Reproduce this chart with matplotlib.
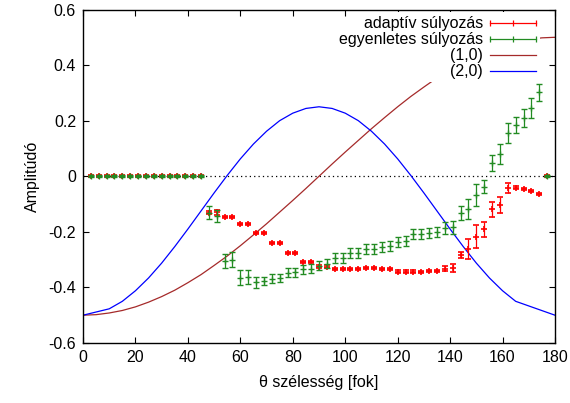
import matplotlib
matplotlib.use('Agg')
import matplotlib.pyplot as plt
from matplotlib.patches import Rectangle

plt.rcParams['font.family'] = ['Liberation Sans', 'DejaVu Sans']

# measurement angles (deg)
theta = [3, 6, 9, 12, 15, 18, 21, 24, 27, 30, 33, 36, 39, 42, 45,
         48, 51, 54, 57, 60, 63, 66, 69, 72, 75, 78, 81, 84, 87, 90,
         93, 96, 99, 102, 105, 108, 111, 114, 117, 120, 123, 126, 129, 132, 135,
         138, 141, 144, 147, 150, 153, 156, 159, 162, 165, 168, 171, 174, 177]

adaptive = [0, 0, 0, 0, 0, 0, 0, 0, 0, 0, 0, 0, 0, 0, 0,
            -0.131, -0.130, -0.147, -0.147, -0.172, -0.172, -0.203, -0.203, -0.241, -0.241,
            -0.277, -0.277, -0.308, -0.308, -0.325,
            -0.325, -0.333, -0.333, -0.333, -0.333, -0.329, -0.329, -0.333, -0.333, -0.343,
            -0.343, -0.343, -0.345, -0.341, -0.341,
            -0.332, -0.330, -0.282, -0.263, -0.217, -0.191, -0.119, -0.103, -0.041, -0.041,
            -0.045, -0.054, -0.065, 0]
adaptive_err = [0.003] * 15 + [0.005, 0.008] + [0.004] * 28 + \
               [0.008, 0.015, 0.011, 0.036, 0.041, 0.028, 0.028, 0.030, 0.018, 0.005,
                0.004, 0.004, 0.004, 0.003]

uniform = [0, 0, 0, 0, 0, 0, 0, 0, 0, 0, 0, 0, 0, 0, 0,
           -0.131, -0.143, -0.305, -0.300, -0.365, -0.362, -0.382, -0.377, -0.369, -0.366,
           -0.347, -0.345, -0.334, -0.333, -0.322,
           -0.315, -0.294, -0.294, -0.275, -0.275, -0.261, -0.260, -0.254, -0.252, -0.235,
           -0.233, -0.208, -0.208, -0.203, -0.200,
           -0.186, -0.184, -0.132, -0.118, -0.068, -0.037, 0.047, 0.079, 0.157, 0.184,
           0.209, 0.244, 0.302, 0]
uniform_err = [0.003] * 15 + \
              [0.024, 0.023, 0.026, 0.026, 0.026, 0.026, 0.020, 0.016, 0.016, 0.016,
               0.017, 0.016, 0.016, 0.016, 0.016,
               0.016, 0.017, 0.017, 0.018, 0.018, 0.018, 0.018, 0.018, 0.018, 0.018,
               0.018, 0.018, 0.018, 0.018, 0.018,
               0.020, 0.022, 0.024, 0.035, 0.039, 0.024, 0.029, 0.036, 0.036, 0.028,
               0.033, 0.036, 0.031, 0.003]

# reference curves
curve_x = [0, 5, 10, 15, 20, 25, 30, 35, 40, 45, 50, 55, 60, 65, 70, 75, 80, 85, 90,
           95, 100, 105, 110, 115, 120, 125, 130, 135, 140, 145, 150, 155, 160, 165, 170, 175, 180]
mode10 = [-0.5, -0.498, -0.492, -0.483, -0.470, -0.453, -0.433, -0.410, -0.383, -0.354,
          -0.321, -0.287, -0.25, -0.211, -0.171, -0.129, -0.087, -0.044, 0,
          0.044, 0.087, 0.129, 0.171, 0.211, 0.25, 0.287, 0.321, 0.354, 0.383, 0.410,
          0.433, 0.453, 0.470, 0.483, 0.492, 0.498, 0.5]
mode20_x = [0, 10, 15, 20, 25, 30, 35, 40, 45, 50, 55, 60, 65, 70, 75, 80, 85, 90,
            95, 100, 105, 110, 115, 120, 125, 130, 135, 140, 145, 150, 155, 160, 165, 180]
mode20 = [-0.5, -0.477, -0.450, -0.412, -0.366, -0.3125, -0.253, -0.190, -0.125, -0.060,
          0.003, 0.0625, 0.116, 0.162, 0.200, 0.227, 0.244, 0.25,
          0.244, 0.227, 0.200, 0.162, 0.116, 0.0625, 0.003, -0.060, -0.125, -0.190, -0.253,
          -0.3125, -0.366, -0.412, -0.450, -0.5]

red = '#ff0000'
green = '#228b22'
brown = '#a52a2a'
blue = '#0000ff'
fs = 11.5

fig = plt.figure(figsize=(5.7, 4.03), dpi=100)
ax = fig.add_axes([83 / 570, 60 / 403, 472 / 570, 333.5 / 403])

ax.axhline(0, color='black', linestyle=(0, (1, 2.5)), linewidth=0.9, zorder=1)
ax.plot(curve_x, mode10, color=brown, linewidth=0.9, zorder=1.5)
ax.plot(mode20_x, mode20, color=blue, linewidth=0.9, zorder=1.5)
ax.errorbar(theta, adaptive, yerr=adaptive_err, fmt='+', color=red, ecolor=red,
            markersize=5, elinewidth=0.9, capsize=2, capthick=0.9, markeredgewidth=1.2, zorder=2.1)
ax.errorbar(theta, uniform, yerr=uniform_err, fmt='+', color=green, ecolor=green,
            markersize=5, elinewidth=0.9, capsize=2, capthick=0.9, markeredgewidth=1.0, zorder=2.2)

ax.set_xlim(0, 180)
ax.set_ylim(-0.6, 0.6)
ax.set_xticks(range(0, 181, 20))
ax.set_yticks([-0.6, -0.4, -0.2, 0, 0.2, 0.4, 0.6])
ax.set_yticklabels(['-0.6', '-0.4', '-0.2', '0', '0.2', '0.4', '0.6'])
ax.tick_params(direction='in', top=True, right=True, length=4, width=0.8, labelsize=fs, pad=5)
for s in ax.spines.values():
    s.set_linewidth(1.0)
ax.set_xlabel('θ szélesség [fok]', fontsize=fs, labelpad=7)
ax.set_ylabel('Amplitúdó', fontsize=fs, labelpad=6)

# gnuplot-like key, top right, opaque background
ax.add_patch(Rectangle((0.576, 0.783), 0.392, 0.21, transform=ax.transAxes,
                       facecolor='white', edgecolor='none', zorder=1.8))
labels = ['adaptív súlyozás', 'egyenletes súlyozás', '(1,0)', '(2,0)']
colors = [red, green, brown, blue]
rows = [0.959, 0.911, 0.863, 0.815]
for i in range(4):
    ax.text(0.847, rows[i], labels[i], transform=ax.transAxes, ha='right', va='center',
            fontsize=fs, zorder=3)
    ax.plot([0.862, 0.960], [rows[i], rows[i]], transform=ax.transAxes, color=colors[i],
            linewidth=0.9, clip_on=False, zorder=3)
    if i < 2:
        ax.plot([0.862, 0.911, 0.960], [rows[i]] * 3, transform=ax.transAxes, linestyle='none',
                marker='|', markersize=5, color=colors[i], markeredgewidth=0.9, clip_on=False,
                zorder=3)

fig.savefig('out.png', dpi=100)
